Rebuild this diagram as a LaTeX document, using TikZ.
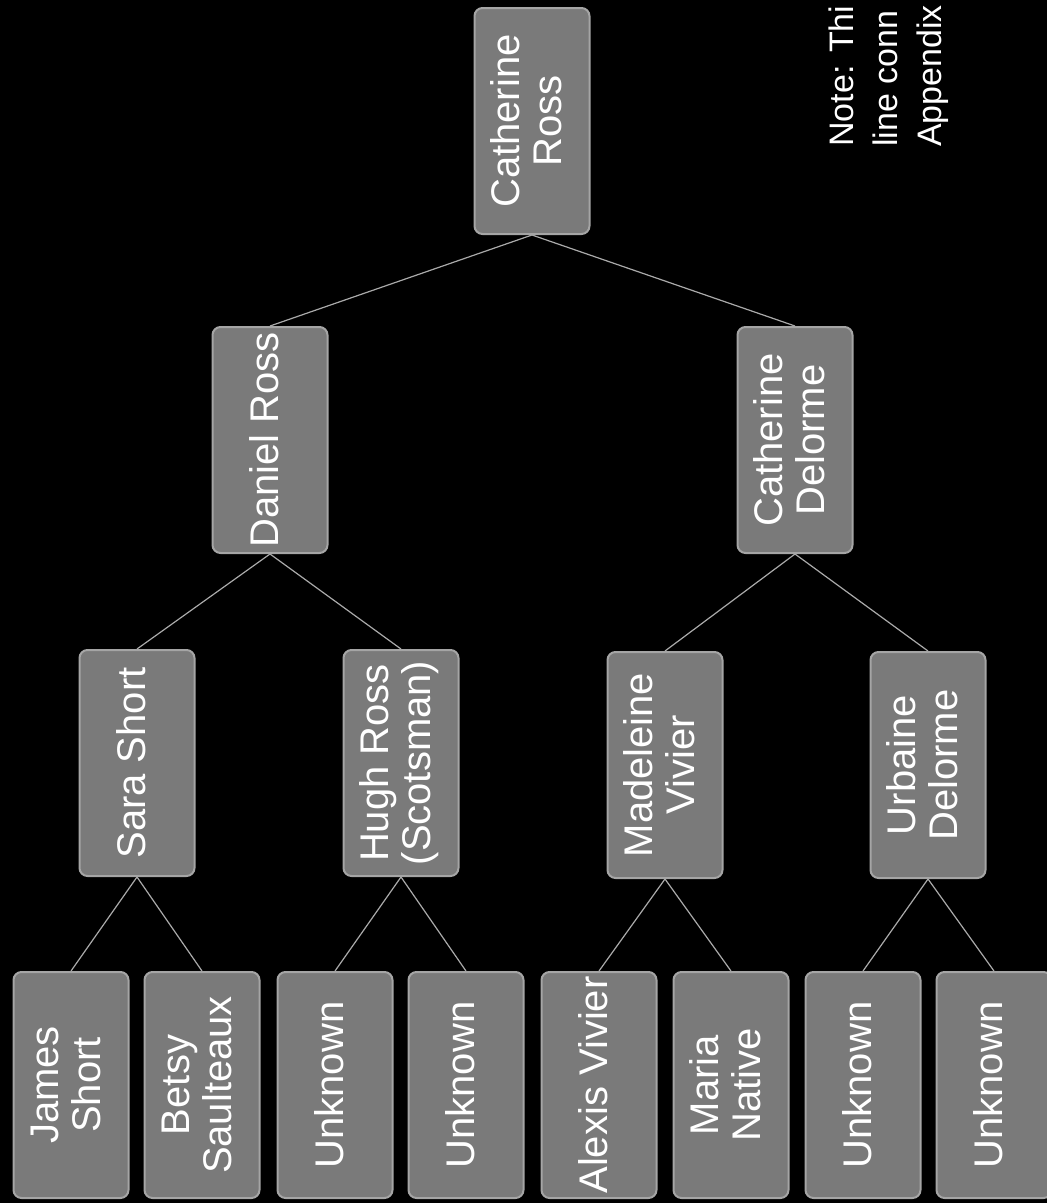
\documentclass[tikz,border=0pt]{standalone}
\usepackage{fontspec}
\setmainfont{Liberation Sans}
\newcommand\rt[1]{\rotatebox{90}{\begin{tabular}{@{}c@{}}#1\end{tabular}}}
\definecolor{boxfill}{RGB}{122,122,122}
\definecolor{boxedge}{RGB}{165,165,165}
\definecolor{linkcol}{RGB}{170,170,170}
\tikzset{
  person/.style={draw=boxedge, line width=2pt, fill=boxfill, rounded corners=8pt,
    minimum width=115pt, minimum height=226pt, inner sep=0pt, text=white,
    font=\fontsize{40}{42}\selectfont},
  link/.style={draw=linkcol, line width=1.2pt},
  notetext/.style={text=white, font=\fontsize{34}{44}\selectfont, align=left, inner sep=0pt}
}
\begin{document}
\begin{tikzpicture}[x=1pt, y=-1pt]
\fill[black] (0,0) rectangle (1047,1203);
\useasboundingbox (0,0) rectangle (1047,1203);

\node[person] (cr) at (532,121) {\rt{Catherine\\Ross}};
\node[person] (dr) at (270,440) {\rt{Daniel Ross}};
\node[person] (cd) at (795,440) {\rt{Catherine\\Delorme}};
\node[person] (ss) at (137,763) {\rt{Sara Short}};
\node[person] (hr) at (401,763) {\rt{Hugh Ross\\(Scotsman)}};
\node[person] (mv) at (665,765) {\rt{Madeleine\\Vivier}};
\node[person] (ud) at (928,765) {\rt{Urbaine\\Delorme}};
\node[person] (js) at (71,1085) {\rt{James\\Short}};
\node[person] (bs) at (202,1085) {\rt{Betsy\\Saulteaux}};
\node[person] (u1) at (335,1085) {\rt{Unknown}};
\node[person] (u2) at (466,1085) {\rt{Unknown}};
\node[person] (av) at (599,1085) {\rt{Alexis Vivier}};
\node[person] (mn) at (731,1085) {\rt{Maria\\Native}};
\node[person] (u3) at (863,1085) {\rt{Unknown}};
\node[person] (u4) at (994,1085) {\rt{Unknown}};

\node[notetext, rotate=90, anchor=north west] (note) at (829,147) {Note: Thi\\line conn\\Appendix};

\draw[link] (cr.south) -- (dr.north);
\draw[link] (cr.south) -- (cd.north);
\draw[link] (dr.south) -- (ss.north);
\draw[link] (dr.south) -- (hr.north);
\draw[link] (cd.south) -- (mv.north);
\draw[link] (cd.south) -- (ud.north);
\draw[link] (ss.south) -- (js.north);
\draw[link] (ss.south) -- (bs.north);
\draw[link] (hr.south) -- (u1.north);
\draw[link] (hr.south) -- (u2.north);
\draw[link] (mv.south) -- (av.north);
\draw[link] (mv.south) -- (mn.north);
\draw[link] (ud.south) -- (u3.north);
\draw[link] (ud.south) -- (u4.north);
\end{tikzpicture}
\end{document}
